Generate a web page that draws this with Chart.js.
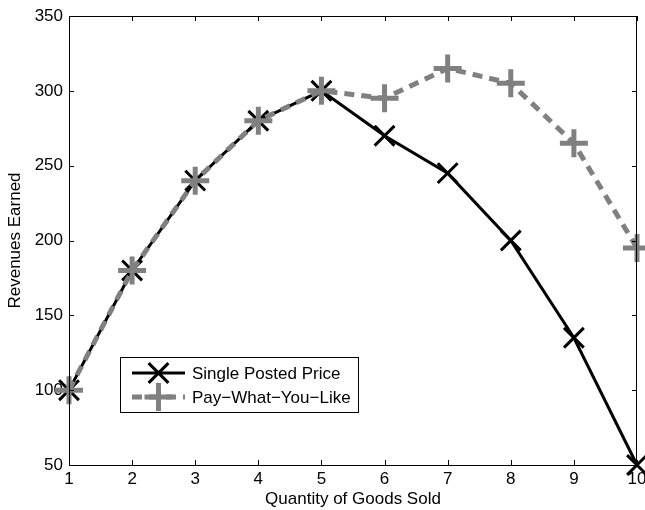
<!DOCTYPE html>
<html>
<head>
<meta charset="utf-8">
<script src="https://cdn.jsdelivr.net/npm/chart.js@4"></script>
<style>
  html, body { margin: 0; padding: 0; background: #fff; }
  #wrap { width: 645px; height: 510px; }
</style>
</head>
<body>
<div id="wrap"><canvas id="revenueChart" width="645" height="510"></canvas></div>
<script>
var quantities = [1, 2, 3, 4, 5, 6, 7, 8, 9, 10];
var singlePosted = [100, 180, 240, 280, 300, 270, 245, 200, 135, 50];
var payWhatYouLike = [100, 180, 240, 280, 300, 295, 315, 305, 265, 195];
var seriesNames = ['Single Posted Price', 'Pay\u2212What\u2212You\u2212Like'];
var yTicks = [50, 100, 150, 200, 250, 300, 350];

var FONT = '"Liberation Sans", Arial, Helvetica, sans-serif';
var GRAY = '#808080';

function toPoints(values) {
    return quantities.map(function(q, i) { return { x: q, y: values[i] }; });
}

// box round the plot, with inward ticks on all four sides
var frameTicks = {
    id: 'frameTicks',
    afterDatasetsDraw: function(chart) {
        var ctx = chart.ctx, a = chart.chartArea;
        var xs = chart.scales.x, ys = chart.scales.y;
        var len = 5;
        ctx.save();
        ctx.strokeStyle = '#000';
        ctx.lineWidth = 1;
        ctx.beginPath();
        ctx.rect(a.left + 0.5, a.top + 0.5, a.right - a.left - 1, a.bottom - a.top);
        quantities.forEach(function(q) {
            var px = Math.round(xs.getPixelForValue(q)) + 0.5;
            ctx.moveTo(px, a.bottom); ctx.lineTo(px, a.bottom - len);
            ctx.moveTo(px, a.top); ctx.lineTo(px, a.top + len);
        });
        yTicks.forEach(function(v) {
            var py = Math.round(ys.getPixelForValue(v)) + 0.5;
            ctx.moveTo(a.left, py); ctx.lineTo(a.left + len, py);
            ctx.moveTo(a.right, py); ctx.lineTo(a.right - len, py);
        });
        ctx.stroke();
        ctx.restore();
    }
};

function drawMarker(ctx, style, r, x, y) {
    var d = style === 'crossRot' ? r * Math.SQRT1_2 : r;
    ctx.beginPath();
    if (style === 'crossRot') {
        ctx.moveTo(x - d, y - d); ctx.lineTo(x + d, y + d);
        ctx.moveTo(x - d, y + d); ctx.lineTo(x + d, y - d);
    } else {
        ctx.moveTo(x - d, y); ctx.lineTo(x + d, y);
        ctx.moveTo(x, y - d); ctx.lineTo(x, y + d);
    }
    ctx.stroke();
}

// MATLAB style legend box inside the axes
var boxLegend = {
    id: 'boxLegend',
    afterDraw: function(chart) {
        var ctx = chart.ctx, a = chart.chartArea;
        var bx = a.left + 51, by = a.top + 341, bw = 238, bh = 55;
        ctx.save();
        ctx.fillStyle = '#fff';
        ctx.fillRect(bx, by, bw, bh);
        ctx.strokeStyle = '#000';
        ctx.lineWidth = 1;
        ctx.strokeRect(bx + 0.5, by + 0.5, bw, bh);

        chart.data.datasets.forEach(function(ds, i) {
            var rowY = by + 16 + i * 24;
            var x0 = bx + 12, x1 = bx + 65;
            ctx.strokeStyle = ds.borderColor;
            ctx.lineWidth = ds.borderWidth;
            ctx.setLineDash(ds.borderDash || []);
            ctx.beginPath();
            ctx.moveTo(x0, rowY);
            ctx.lineTo(x1, rowY);
            ctx.stroke();
            ctx.setLineDash([]);
            ctx.lineWidth = ds.pointBorderWidth;
            drawMarker(ctx, ds.pointStyle, ds.pointRadius, (x0 + x1) / 2, rowY);
            ctx.fillStyle = '#000';
            ctx.font = '17px ' + FONT;
            ctx.textBaseline = 'middle';
            ctx.textAlign = 'left';
            ctx.fillText(ds.label, x1 + 7, rowY + 1);
        });
        ctx.restore();
    }
};

var revenueChart = new Chart(document.getElementById('revenueChart').getContext('2d'), {
    type: 'line',
    data: {
        datasets: [{
            label: seriesNames[0],
            data: toPoints(singlePosted),
            borderColor: '#000',
            backgroundColor: '#000',
            borderWidth: 3,
            pointStyle: 'crossRot',
            pointRadius: 14,
            pointBorderWidth: 3,
            pointBorderColor: '#000',
            tension: 0,
            clip: false,
            order: 1
        }, {
            label: seriesNames[1],
            data: toPoints(payWhatYouLike),
            borderColor: GRAY,
            backgroundColor: GRAY,
            borderWidth: 5,
            borderDash: [10, 7],
            pointStyle: 'cross',
            pointRadius: 14,
            pointBorderWidth: 5,
            pointBorderColor: GRAY,
            tension: 0,
            clip: false,
            order: 0
        }]
    },
    options: {
        responsive: false,
        animation: false,
        layout: {
            autoPadding: false,
            padding: { top: 16, right: 8, left: 0, bottom: 0 }
        },
        plugins: {
            legend: { display: false },
            tooltip: { enabled: false }
        },
        scales: {
            x: {
                type: 'linear',
                min: 1,
                max: 10,
                afterFit: function(scale) {
                    scale.height = 45;
                    scale.paddingLeft = 0;
                    scale.paddingRight = 0;
                },
                afterBuildTicks: function(scale) {
                    scale.ticks = quantities.map(function(q) { return { value: q }; });
                },
                grid: { display: true, drawOnChartArea: false, drawTicks: false },
                border: { display: true, color: '#000', width: 1 },
                ticks: {
                    padding: 4,
                    color: '#000',
                    font: { family: FONT, size: 17 },
                    maxRotation: 0
                },
                title: {
                    display: true,
                    text: 'Quantity of Goods Sold',
                    color: '#000',
                    font: { family: FONT, size: 17 },
                    padding: { top: 0, bottom: 0 }
                }
            },
            y: {
                min: 50,
                max: 350,
                afterFit: function(scale) {
                    scale.width = 69;
                    scale.paddingTop = 0;
                    scale.paddingBottom = 0;
                },
                afterBuildTicks: function(scale) {
                    scale.ticks = yTicks.map(function(v) { return { value: v }; });
                },
                grid: { display: true, drawOnChartArea: false, drawTicks: false },
                border: { display: true, color: '#000', width: 1 },
                ticks: {
                    padding: 6,
                    color: '#000',
                    font: { family: FONT, size: 17 }
                },
                title: {
                    display: true,
                    text: 'Revenues Earned',
                    color: '#000',
                    font: { family: FONT, size: 17 },
                    padding: { top: 5, bottom: 0 }
                }
            }
        }
    },
    plugins: [frameTicks, boxLegend]
});
</script>
</body>
</html>
